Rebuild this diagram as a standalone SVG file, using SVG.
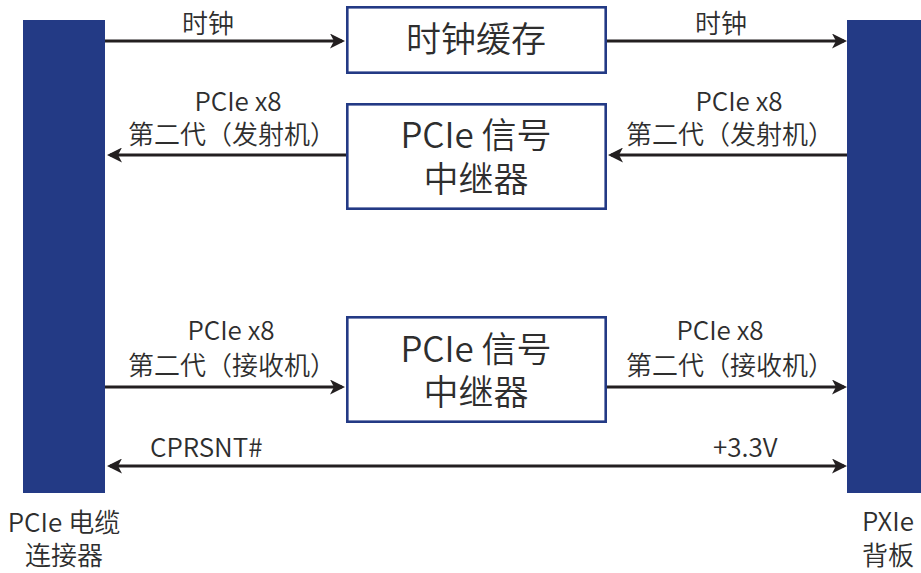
<svg xmlns="http://www.w3.org/2000/svg" width="921" height="573" viewBox="0 0 921 573">
<style>
.bar{fill:#233a85}
.box{fill:#fff;stroke:#233a85;stroke-width:2.6}
.t{font-family:"Noto Sans CJK SC","Noto Sans",sans-serif;font-weight:350;fill:#2e2e2e;text-anchor:middle}
.s{font-size:26px}
.b{font-size:35px}
.w{stroke:#231f20;stroke-width:3;fill:none}
</style>
<defs>
<marker id="ah" viewBox="0 0 15 15" refX="12" refY="7.5" markerWidth="15" markerHeight="15" markerUnits="userSpaceOnUse" orient="auto-start-reverse">
<path d="M0,0 L15,7.5 L0,15 L4,7.5 z" fill="#231f20"/>
</marker>
</defs>
<g id="left-connector">
<rect class="bar" x="23" y="20" width="82" height="473"/>
<text class="t s" x="64" y="532">PCIe 电缆</text>
<text class="t s" x="64" y="565">连接器</text>
</g>
<g id="right-backplane">
<rect class="bar" x="847" y="20" width="74" height="473"/>
<text class="t s" x="888" y="531">PXIe</text>
<text class="t s" x="888" y="565">背板</text>
</g>
<g id="clock-buffer">
<rect class="box" x="347.3" y="7.3" width="258.4" height="65.4"/>
<text class="t b" x="476" y="52">时钟缓存</text>
</g>
<g id="tx-repeater">
<rect class="box" x="347.3" y="104.3" width="258.4" height="104.4"/>
<text class="t b" x="476" y="148">PCIe 信号</text>
<text class="t b" x="476" y="192">中继器</text>
</g>
<g id="rx-repeater">
<rect class="box" x="347.3" y="317.3" width="258.4" height="104.4"/>
<text class="t b" x="476" y="362">PCIe 信号</text>
<text class="t b" x="476" y="405">中继器</text>
</g>
<g id="connectors">
<line class="w" x1="105" y1="41" x2="342" y2="41" marker-end="url(#ah)"/>
<line class="w" x1="607" y1="41" x2="844" y2="41" marker-end="url(#ah)"/>
<line class="w" x1="346" y1="155" x2="110" y2="155" marker-end="url(#ah)"/>
<line class="w" x1="847" y1="155" x2="611" y2="155" marker-end="url(#ah)"/>
<line class="w" x1="105" y1="387" x2="342" y2="387" marker-end="url(#ah)"/>
<line class="w" x1="607" y1="387" x2="844" y2="387" marker-end="url(#ah)"/>
<line class="w" x1="110" y1="466" x2="844" y2="466" marker-start="url(#ah)" marker-end="url(#ah)"/>
<text class="t s" x="208" y="33">时钟</text>
<text class="t s" x="721" y="33">时钟</text>
<text class="t s" x="238" y="111">PCIe x8</text>
<text class="t s" x="232" y="144">第二代（发射机）</text>
<text class="t s" x="739" y="111">PCIe x8</text>
<text class="t s" x="730" y="144">第二代（发射机）</text>
<text class="t s" x="231" y="340">PCIe x8</text>
<text class="t s" x="232" y="375">第二代（接收机）</text>
<text class="t s" x="720" y="340">PCIe x8</text>
<text class="t s" x="730" y="375">第二代（接收机）</text>
<text class="t s" x="150" y="457" style="text-anchor:start">CPRSNT#</text>
<text class="t s" x="713" y="457" style="text-anchor:start">+3.3V</text>
</g>
</svg>
